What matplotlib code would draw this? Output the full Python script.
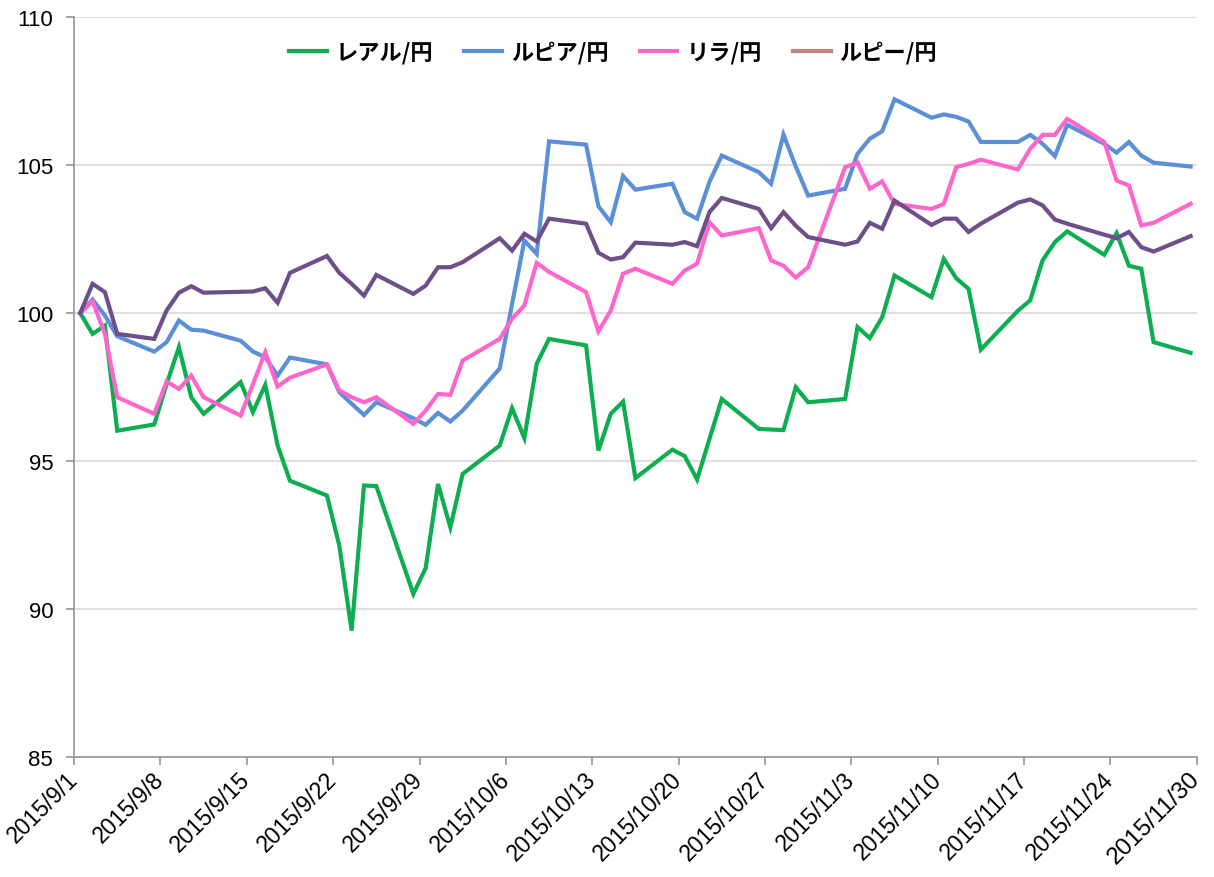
import matplotlib
matplotlib.use("Agg")
import matplotlib.pyplot as plt
from matplotlib.lines import Line2D
from datetime import date

dates = [
    "2015-09-01", "2015-09-02", "2015-09-03", "2015-09-04",
    "2015-09-07", "2015-09-08", "2015-09-09", "2015-09-10", "2015-09-11",
    "2015-09-14", "2015-09-15", "2015-09-16", "2015-09-17", "2015-09-18",
    "2015-09-21", "2015-09-22", "2015-09-23", "2015-09-24", "2015-09-25",
    "2015-09-28", "2015-09-29", "2015-09-30", "2015-10-01", "2015-10-02",
    "2015-10-05", "2015-10-06", "2015-10-07", "2015-10-08", "2015-10-09",
    "2015-10-12", "2015-10-13", "2015-10-14", "2015-10-15", "2015-10-16",
    "2015-10-19", "2015-10-20", "2015-10-21", "2015-10-22", "2015-10-23",
    "2015-10-26", "2015-10-27", "2015-10-28", "2015-10-29", "2015-10-30",
    "2015-11-02", "2015-11-03", "2015-11-04", "2015-11-05", "2015-11-06",
    "2015-11-09", "2015-11-10", "2015-11-11", "2015-11-12", "2015-11-13",
    "2015-11-16", "2015-11-17", "2015-11-18", "2015-11-19", "2015-11-20",
    "2015-11-23", "2015-11-24", "2015-11-25", "2015-11-26", "2015-11-27",
    "2015-11-30",
]

real = [
    100.0, 99.3, 99.58, 96.03,
    96.24, 97.6, 98.85, 97.16, 96.6,
    97.67, 96.66, 97.58, 95.53, 94.34,
    93.84, 92.15, 89.28, 94.18, 94.16,
    90.52, 91.39, 94.23, 92.77, 94.57,
    95.53, 96.79, 95.78, 98.29, 99.13,
    98.91, 95.36, 96.6, 97.01, 94.43,
    95.39, 95.17, 94.38, 95.75, 97.1,
    96.09, 96.07, 96.05, 97.5, 96.99,
    97.1, 99.53, 99.16, 99.86, 101.27,
    100.54, 101.83, 101.18, 100.82, 98.77,
    100.08, 100.43, 101.78, 102.4, 102.76,
    101.97, 102.7, 101.6, 101.5, 99.02,
    98.66,
]

rupiah = [
    100.0, 100.46, 99.92, 99.22,
    98.7, 99.02, 99.75, 99.44, 99.41,
    99.07, 98.7, 98.51, 97.89, 98.5,
    98.27, 97.33, 96.94, 96.56, 96.99,
    96.45, 96.23, 96.63, 96.34, 96.71,
    98.13, 100.3, 102.45, 102.0, 105.8,
    105.69, 103.61, 103.07, 104.63, 104.17,
    104.37, 103.41, 103.19, 104.43, 105.32,
    104.76, 104.37, 106.03, 104.95, 103.97,
    104.2, 105.38, 105.89, 106.14, 107.22,
    106.6, 106.71, 106.63, 106.47, 105.78,
    105.78, 106.02, 105.72, 105.3, 106.36,
    105.72, 105.42, 105.78, 105.32, 105.08,
    104.95,
]

lira = [
    100.0, 100.4, 99.3, 97.16,
    96.6, 97.69, 97.44, 97.89, 97.16,
    96.54, 97.6, 98.68, 97.52, 97.82,
    98.27, 97.39, 97.16, 96.99, 97.16,
    96.26, 96.71, 97.27, 97.24, 98.4,
    99.13, 99.81, 100.26, 101.7, 101.39,
    100.71, 99.38, 100.09, 101.33, 101.5,
    100.99, 101.44, 101.67, 103.07, 102.62,
    102.87, 101.78, 101.6, 101.2, 101.55,
    104.93, 105.08, 104.2, 104.45, 103.69,
    103.52, 103.69, 104.93, 105.04, 105.18,
    104.85, 105.55, 106.02, 106.02, 106.56,
    105.78, 104.48, 104.31, 102.96, 103.05,
    103.69,
]

rupee = [
    100.0, 100.99, 100.71, 99.3,
    99.13, 100.09, 100.69, 100.91, 100.69,
    100.72, 100.73, 100.84, 100.35, 101.36,
    101.93, 101.36, 100.99, 100.59, 101.29,
    100.65, 100.93, 101.55, 101.55, 101.72,
    102.53, 102.11, 102.68, 102.42, 103.19,
    103.02, 102.04, 101.81, 101.89, 102.38,
    102.31, 102.4, 102.26, 103.41, 103.89,
    103.52, 102.87, 103.41, 102.95, 102.57,
    102.31, 102.42, 103.05, 102.85, 103.8,
    102.98, 103.19, 103.19, 102.74, 103.02,
    103.73, 103.84, 103.64, 103.16, 103.02,
    102.65, 102.53, 102.74, 102.23, 102.08,
    102.6,
]

series_names = ["レアル/円", "ルピア/円", "リラ/円", "ルピー/円"]
line_colors = ["#0DAE4F", "#5B8FD6", "#FF66CC", "#6E4F8A"]
legend_colors = ["#0DAE4F", "#5B8FD6", "#FF66CC", "#C0837F"]

tick_labels = ["2015/9/1", "2015/9/8", "2015/9/15", "2015/9/22", "2015/9/29",
               "2015/10/6", "2015/10/13", "2015/10/20", "2015/10/27",
               "2015/11/3", "2015/11/10", "2015/11/17", "2015/11/24",
               "2015/11/30"]

y_ticks = [85, 90, 95, 100, 105, 110]

start = date(2015, 9, 1)
def day_pos(s):
    d = date.fromisoformat(s)
    return (d - start).days + 0.5

xs = [day_pos(s) for s in dates]

fig = plt.figure(figsize=(12.14, 8.78), dpi=100)
ax = fig.add_axes([0.061, 0.1363, 0.9248, 0.8432])

for vals, col in zip([real, rupiah, lira, rupee], line_colors):
    ax.plot(xs, vals, color=col, lw=3.0, solid_joinstyle="miter", zorder=3)

tick_font = ["Liberation Sans", "DejaVu Sans"]

ax.set_xlim(0, 91)
ax.set_ylim(85, 110)
ax.set_yticks(y_ticks)
ax.set_yticklabels([str(v) for v in y_ticks], family=tick_font, fontsize=16)
ax.grid(axis="y", color="#D9D9D9", lw=1.2, zorder=0)
ax.grid(axis="x", visible=False)

xt = [7 * i for i in range(len(tick_labels))]
ax.set_xticks(xt)
ax.set_xticklabels(tick_labels, rotation=45, ha="right", va="center", rotation_mode="anchor",
                   family=tick_font, fontsize=16.5)
lbls = ax.get_xticklabels()
lbls[-1].set_fontsize(17.5)

for sp in ["top", "right"]:
    ax.spines[sp].set_visible(False)
for sp in ["left", "bottom"]:
    ax.spines[sp].set_color("#969696")
    ax.spines[sp].set_linewidth(1.2)
ax.tick_params(axis="both", colors="#969696", length=6, width=1.2, labelcolor="black")
ax.tick_params(axis="y", pad=9)
ax.tick_params(axis="x", pad=7)

handles = [Line2D([0], [0], color=c, lw=3.0) for c in legend_colors]
leg = ax.legend(handles, series_names, loc="upper center", bbox_to_anchor=(0.48, 0.995), ncol=4,
                frameon=False, prop={"family": ["Noto Sans CJK JP", "DejaVu Sans"], "size": 16, "weight": "bold"},
                handlelength=1.7, handletextpad=0.4, columnspacing=1.4)

fig.savefig("out.png", dpi=100)
